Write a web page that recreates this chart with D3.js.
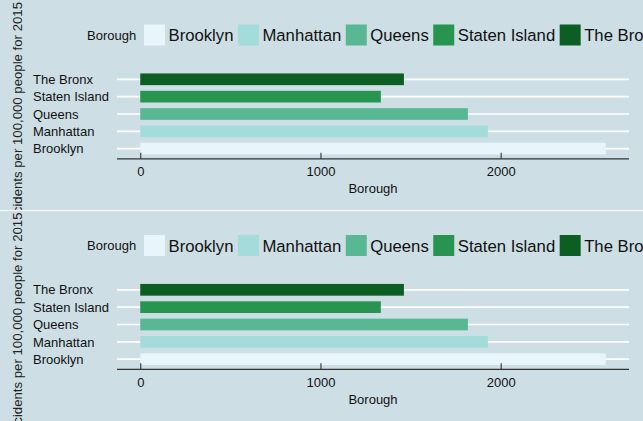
<!DOCTYPE html>
<html>
<head>
<meta charset="utf-8">
<script src="https://cdn.jsdelivr.net/npm/d3@7"></script>
<style>
  html, body { margin: 0; padding: 0; background: #cddfe5; }
  svg { display: block; font-family: "Liberation Sans", Arial, Helvetica, sans-serif; }
</style>
</head>
<body>
<svg id="chart" width="643" height="421"></svg>
<script>
// ---- data ----
const boroughs = ["Brooklyn", "Manhattan", "Queens", "Staten Island", "The Bronx"];
const rates = [2583, 1929, 1818, 1335, 1463];
const colors = ["#e8f5fa", "#a3dcdb", "#59b894", "#27954f", "#0c5e22"];
const xTicks = [0, 1000, 2000];
const legendTitle = "Borough";
const xTitle = "Borough";
const yTitle = "Number of accidents per 100,000 people for 2015";
const facets = [0, 1];

const W = 643, H = 421, FH = H / 2;
const bg = "#cddfe5";
const svg = d3.select("#chart");
svg.append("rect").attr("width", W).attr("height", H).attr("fill", bg);

const x = d3.scaleLinear().domain([-129, 2712]).range([117, 629]);
const y = d3.scalePoint().domain(boroughs.slice().reverse()).range([68.9, 159.1]).padding(0.6);
const barH = y.step() * 0.675;
const color = d3.scaleOrdinal().domain(boroughs).range(colors);
const data = boroughs.map((b, i) => ({ borough: b, value: rates[i] }));

facets.forEach((f, fi) => {
  const clipId = "clip" + fi;
  svg.append("clipPath").attr("id", clipId)
    .append("rect").attr("x", 0).attr("y", 0).attr("width", W).attr("height", FH);
  const g = svg.append("g")
    .attr("transform", `translate(0,${fi * FH})`)
    .attr("clip-path", `url(#${clipId})`);

  // y-axis title (rotated, clipped)
  g.append("text")
    .attr("transform", "translate(22,2) rotate(-90)")
    .attr("text-anchor", "end")
    .attr("font-size", 13.2)
    .attr("fill", "#222")
    .text(yTitle);

  // legend
  g.append("text").attr("x", 87).attr("y", 39.5).attr("font-size", 13)
    .attr("fill", "#111").text(legendTitle);
  let lx = 144;
  boroughs.forEach(b => {
    g.append("rect").attr("x", lx).attr("y", 24.5).attr("width", 21).attr("height", 21)
      .attr("fill", color(b));
    const t = g.append("text").attr("x", lx + 24.5).attr("y", 41).attr("font-size", 16.7)
      .attr("fill", "#111").text(b);
    lx = lx + 24.5 + t.node().getComputedTextLength() + 4.5;
  });

  // gridlines
  g.append("g").selectAll("line").data(boroughs).join("line")
    .attr("x1", x.range()[0]).attr("x2", x.range()[1])
    .attr("y1", d => y(d)).attr("y2", d => y(d))
    .attr("stroke", "#ffffff").attr("stroke-width", 1.7);

  // bars
  g.append("g").selectAll("rect").data(data).join("rect")
    .attr("x", x(0))
    .attr("y", d => y(d.borough) - barH / 2)
    .attr("width", d => x(d.value) - x(0))
    .attr("height", barH)
    .attr("fill", d => color(d.borough));

  // y labels (left aligned)
  g.append("g").selectAll("text").data(boroughs).join("text")
    .attr("x", 33).attr("y", d => y(d)).attr("dy", "0.36em")
    .attr("font-size", 13).attr("fill", "#111")
    .text(d => d);

  // x axis
  const axisY = y.range()[1] - 0.3;
  const ax = g.append("g").attr("transform", `translate(0,${axisY})`)
    .call(d3.axisBottom(x).tickValues(xTicks).tickFormat(d3.format("d"))
      .tickSizeInner(-6).tickSizeOuter(0).tickPadding(8));
  ax.select(".domain").attr("stroke", "#333").attr("stroke-width", 1.2)
    .attr("d", `M${x.range()[0]},0H${x.range()[1]}`);
  ax.selectAll(".tick line").attr("stroke", "#333").attr("stroke-width", 1.1);
  ax.selectAll(".tick text").attr("font-size", 13).attr("fill", "#111")
    .attr("font-family", "Liberation Sans, Arial, sans-serif");

  g.append("text").attr("x", (x.range()[0] + x.range()[1]) / 2).attr("y", 193)
    .attr("text-anchor", "middle").attr("font-size", 13).attr("fill", "#111")
    .text(xTitle);
});

// separator between facets
svg.append("line").attr("x1", 0).attr("x2", W).attr("y1", FH).attr("y2", FH)
  .attr("stroke", "#ffffff").attr("stroke-width", 1);
</script>
</body>
</html>
